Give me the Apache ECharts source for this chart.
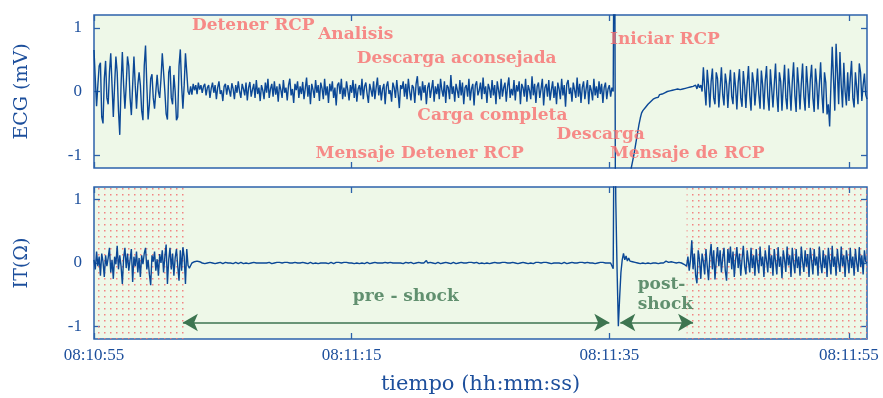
<!DOCTYPE html>
<html><head><meta charset="utf-8">
<script src="https://cdn.jsdelivr.net/npm/echarts@6/dist/echarts.min.js"></script>
<style>html,body{margin:0;padding:0;background:#fff}#c{width:883px;height:398px}</style>
</head><body><div id="c"></div>
<script>
// ---- DATA (sampled every 0.1 s from 08:10:55) ----
const sampleStep = 0.1;
const ecg = [
 0.65,0.2,-0.23,0.1,0.4,0.45,-0.4,-0.5,0.2,0.48,
 -0.1,-0.2,0.3,0.6,0.1,-0.4,0.1,0.55,0.3,-0.3,
 -0.68,0.1,0.62,0.1,-0.27,0.1,0.55,0.4,-0.1,-0.37,
 0.1,0.55,0.1,-0.27,0.1,0.3,0.1,-0.3,-0.45,0.4,
 0.72,0.1,-0.44,-0.2,0.2,0.27,-0.1,-0.27,0.0,0.26,
 0.0,-0.1,0.2,0.6,0.6,0.0,-0.35,-0.44,0.3,0.4,
 -0.1,-0.2,0.26,0.0,-0.45,-0.4,0.4,0.66,0.1,-0.27,
 0.1,0.6,0.3,0.0,-0.05,
 0.08,-0.05,0.12,0.02,0.1,
 -0.04,0.14,0.03,0.1,-0.02,0.08,0.12,-0.06,0.06,0.1,
 -0.1,0.05,0.14,-0.02,0.1,-0.12,0.06,0.16,-0.04,0.02,
 -0.15,0.08,0.12,-0.05,0.1,0.02,-0.08,0.13,0.04,-0.12,
 0.1,-0.02,0.16,0.0,-0.1,0.12,0.04,-0.06,0.14,-0.14,
 0.06,0.15,-0.08,0.03,0.12,-0.1,0.18,-0.04,0.06,-0.15,
 0.1,0.02,-0.12,0.14,-0.02,0.2,-0.1,0.04,0.12,-0.08,
 0.16,-0.05,0.08,-0.16,0.12,0.03,-0.1,0.18,-0.02,0.06,
 -0.14,0.1,0.2,-0.06,0.04,-0.18,0.12,0.02,0.16,-0.1,
 0.08,-0.04,0.15,-0.12,0.05,0.22,-0.08,0.1,-0.2,0.12,
 0.03,-0.1,0.18,-0.02,0.1,-0.15,0.14,0.05,-0.12,0.2,
 -0.06,0.08,-0.18,0.12,0.0,0.16,-0.1,0.06,-0.22,0.1,
 0.14,-0.04,0.2,-0.12,0.06,-0.08,0.16,0.02,-0.14,0.1,
 -0.02,0.18,-0.1,0.12,-0.16,0.04,0.1,-0.06,0.2,-0.12,
 0.08,0.14,-0.04,-0.18,0.12,0.02,-0.08,0.16,-0.12,0.06,
 0.22,-0.06,0.1,-0.14,0.04,0.12,-0.2,0.08,0.16,-0.04,
 0.02,-0.16,0.14,0.06,-0.1,0.18,-0.02,-0.26,0.1,0.04,
 0.16,-0.08,0.12,-0.12,0.2,0.0,-0.14,0.1,0.06,-0.18,
 0.12,0.24,-0.06,0.08,-0.14,0.16,-0.02,0.1,-0.2,0.06,
 0.14,-0.1,0.04,0.18,-0.16,0.08,-0.04,0.12,-0.12,0.2,
 0.02,-0.08,0.16,-0.18,0.1,0.06,-0.12,0.26,-0.04,0.08,
 -0.16,0.12,0.02,-0.1,0.18,-0.06,0.14,-0.2,0.06,0.1,
 -0.08,0.2,-0.14,0.04,0.12,-0.22,0.1,0.16,-0.06,0.02,
 0.14,-0.12,0.22,-0.04,0.08,-0.18,0.12,0.04,-0.1,0.18,
 -0.06,0.1,-0.2,0.16,0.02,-0.12,0.2,-0.08,0.06,0.14,
 -0.16,0.08,0.22,-0.1,0.04,-0.06,0.18,-0.14,0.1,0.0,
 0.16,-0.2,0.12,0.06,-0.08,0.2,-0.16,0.1,0.02,-0.12,
 0.24,-0.06,0.12,-0.18,0.08,0.14,-0.1,0.04,0.2,-0.22,
 0.06,0.12,-0.08,0.18,-0.14,0.02,0.16,-0.1,0.08,-0.2,
 0.14,0.04,-0.12,0.2,-0.06,0.1,-0.24,0.12,0.18,-0.04,
 0.06,-0.16,0.14,0.02,-0.1,0.22,-0.08,0.12,-0.18,0.06,
 0.16,-0.12,0.04,0.18,-0.2,0.1,0.02,-0.14,0.2,-0.06,
 0.08,-0.1,0.16,-0.04,0.12,-0.18,0.06,0.14,-0.12,0.04,
 0.1,-0.08,0.06,0.0,
 4.0,-4.0,
 -3.6,-3.3,-3.0,-2.7,-2.4,-2.15,-1.95,-1.75,-1.6,-1.45,-1.32,-1.2,
 -1.1,-1.0,-0.88,-0.76,-0.64,-0.52,-0.42,-0.34,-0.3,-0.27,
 -0.25,-0.22,-0.2,-0.19,-0.16,-0.15,-0.12,-0.13,-0.1,-0.08,
 -0.09,-0.05,-0.07,-0.04,-0.05,-0.02,-0.04,0.0,-0.02,0.01,
 -0.01,0.02,0.0,0.03,0.01,0.04,0.02,0.03,0.01,0.04,
 0.02,0.05,0.02,0.06,0.03,0.07,0.04,0.08,0.05,0.1,
 0.04,0.12,0.06,0.1,
 0.0,0.38,0.05,-0.22,0.34,0.1,-0.25,0.15,0.36,-0.1,
 -0.2,0.3,0.2,-0.25,0.05,0.38,-0.05,-0.22,0.28,0.12,
 -0.26,0.1,0.34,-0.08,-0.2,0.3,0.06,-0.28,0.14,0.35,
 -0.1,-0.24,0.32,0.08,-0.26,0.12,0.4,-0.06,-0.3,0.3,
 0.14,-0.22,0.05,0.36,-0.04,-0.27,0.33,0.1,-0.28,0.16,
 0.4,-0.08,-0.3,0.35,0.05,-0.25,0.1,0.44,-0.05,-0.32,
 0.3,0.16,-0.3,0.08,0.42,-0.1,-0.28,0.36,0.06,-0.3,
 0.15,0.46,-0.06,-0.32,0.38,0.1,-0.28,0.12,0.44,-0.08,
 -0.3,0.4,0.08,-0.26,0.18,0.42,-0.1,-0.32,0.36,0.12,
 -0.28,0.1,0.46,-0.04,-0.34,0.3,0.14,-0.36,-0.2,-0.55,
 0.1,0.7,0.2,-0.3,0.75,0.3,-0.2,0.62,0.1,-0.25,
 0.45,0.0,-0.22,0.3,-0.15,0.2,0.48,-0.1,-0.25,0.3,
 0.06,-0.2,0.44,0.3,-0.15,0.1,0.28,-0.05,-0.12
];
const it = [
 0.05,-0.1,0.18,-0.05,0.1,-0.2,0.15,0.02,-0.22,0.12,
 -0.05,0.08,0.24,-0.15,0.05,-0.25,0.1,-0.02,0.27,-0.1,
 0.12,-0.05,-0.33,0.08,0.24,-0.08,0.15,-0.12,0.05,0.22,
 -0.3,0.1,-0.05,0.18,-0.15,0.08,-0.22,0.12,-0.02,0.15,
 0.24,-0.1,0.05,-0.18,-0.35,0.12,0.02,0.18,-0.12,0.06,
 -0.2,0.14,0.0,0.2,-0.15,0.1,0.29,-0.33,0.05,0.24,
 -0.1,0.15,-0.2,0.08,0.22,-0.05,-0.28,0.2,-0.12,0.25,
 0.1,-0.33,
 0.22,-0.04,-0.08,-0.05,0.0,0.03,0.02,0.01,
 0.03,0.01,0.02,-0.01,0.0,0.02,-0.01,0.01,0.0,-0.02,
 0.01,-0.01,0.0,0.02,-0.01,0.01,0.0,-0.01,0.01,0.0,
 -0.01,0.0,0.01,-0.01,0.0,0.01,0.0,0.01,-0.01,0.0,
 0.01,0.0,-0.01,0.0,0.01,0.0,-0.01,0.01,0.0,0.0,
 -0.01,0.01,0.0,0.0,0.01,-0.01,0.0,0.01,0.0,-0.01,
 0.0,0.01,0.0,-0.01,0.0,0.0,0.01,0.0,-0.01,0.01,
 0.0,0.0,0.01,-0.01,0.01,0.0,0.0,-0.01,0.01,0.0,
 0.01,-0.01,0.0,0.01,0.0,-0.01,0.01,0.0,0.0,0.01,
 0.0,-0.01,0.01,0.0,0.0,0.01,-0.01,0.0,0.01,0.0,
 -0.01,0.01,0.0,0.0,-0.01,0.01,0.0,0.01,0.0,-0.01,
 0.0,0.01,-0.01,0.0,0.01,0.0,-0.01,0.0,0.01,0.0,
 0.01,0.0,0.0,-0.01,0.01,0.0,0.01,-0.01,0.0,0.0,
 0.0,0.01,-0.01,0.01,0.0,0.0,-0.01,0.01,0.0,0.01,
 -0.01,0.0,0.01,0.0,-0.01,0.01,0.0,0.0,0.01,-0.01,
 0.0,0.01,0.0,-0.01,0.0,0.01,0.01,-0.01,0.0,0.0,
 0.01,-0.01,0.0,0.01,0.0,-0.01,0.0,0.01,0.0,0.01,
 -0.01,0.0,0.01,0.0,0.0,-0.01,0.01,0.0,-0.01,0.01,
 0.0,0.0,0.01,-0.01,0.0,0.01,0.0,0.0,0.04,0.0,
 -0.01,0.01,0.0,0.0,0.01,-0.01,0.0,0.01,0.0,-0.01,
 0.01,0.0,-0.01,0.01,0.0,0.0,0.01,-0.01,0.0,0.01,
 0.0,-0.01,0.01,0.0,0.0,0.01,-0.01,0.0,0.01,0.0,
 -0.01,0.01,0.0,0.01,-0.01,0.0,0.0,0.01,0.0,-0.01,
 0.01,0.0,0.0,-0.01,0.01,0.0,0.01,-0.01,0.0,0.0,
 0.0,0.01,-0.01,0.0,0.01,0.0,-0.01,0.01,0.0,0.01,
 -0.01,0.0,0.01,0.0,-0.01,0.01,0.0,0.0,0.01,-0.01,
 0.01,0.0,-0.01,0.01,0.0,0.0,0.01,-0.01,0.01,0.0,
 0.0,-0.01,0.0,0.01,0.0,0.01,-0.01,0.0,0.0,0.01,
 -0.01,0.01,0.0,0.0,0.01,-0.01,0.01,0.0,-0.01,0.0,
 0.01,0.0,0.01,-0.01,0.0,0.01,0.0,-0.01,0.01,0.0,
 0.0,0.01,-0.01,0.0,0.01,0.0,0.0,0.01,-0.01,0.01,
 -0.01,0.0,0.01,0.01,-0.01,0.0,0.01,0.0,0.0,-0.01,
 0.01,0.0,-0.01,0.01,0.0,0.01,-0.01,0.0,0.01,0.0,
 0.01,0.0,-0.02,-0.09,
 3.5,1.0,-0.1,-1.0,-0.55,-0.15,0.05,0.15,0.05,0.11,
 0.03,0.08,0.03,0.06,0.02,0.04,0.01,0.03,0.0,0.02,
 -0.01,0.02,0.0,0.01,-0.01,0.02,0.0,0.01,-0.01,0.01,
 0.0,0.02,0.0,0.01,-0.01,0.01,0.0,0.02,0.0,0.01,
 0.03,0.0,0.01,-0.01,0.02,0.0,0.01,0.02,0.0,0.03,
 0.01,0.02,0.0,0.01,-0.02,0.0,
 -0.05,0.1,-0.12,0.05,0.36,-0.1,0.15,-0.2,-0.32,0.2,
 0.05,-0.25,0.15,0.02,-0.18,0.22,-0.05,-0.27,0.1,0.3,
 -0.1,0.2,-0.26,0.05,0.25,-0.05,0.2,-0.15,0.08,0.24,
 -0.12,-0.28,0.22,0.0,0.26,-0.1,0.18,-0.22,0.05,0.25,
 -0.08,0.15,-0.2,0.06,0.27,-0.05,-0.18,0.2,0.02,-0.15,
 0.24,-0.08,0.12,-0.2,0.22,0.0,-0.16,0.26,-0.05,0.1,
 -0.22,0.2,0.04,-0.15,0.28,-0.08,0.12,-0.2,0.22,0.02,
 -0.18,0.25,-0.06,0.1,-0.24,0.2,0.05,-0.14,0.26,-0.04,
 0.12,-0.22,0.24,0.0,-0.16,0.22,-0.08,0.1,-0.2,0.26,
 0.02,-0.14,0.2,-0.06,0.14,-0.22,0.24,0.04,-0.18,0.22,
 -0.04,0.1,-0.2,0.26,0.0,-0.16,0.2,-0.08,0.12,-0.22,
 0.24,0.02,-0.18,0.27,-0.06,0.1,-0.2,0.22,0.0,-0.14,
 0.26,-0.05,0.12,-0.22,0.2,0.04,-0.16,0.24,-0.08,0.1,
 -0.2,0.22,0.0,-0.14,0.25,-0.06,0.12,-0.18,0.2,0.02,
 0.0
];
const tickTimes = [0, 20, 40, 58.6];
const tickLabels = ['08:10:55', '08:11:15', '08:11:35', '08:11:55'];
const yTicks = [-1, 0, 1];
const eventNames = ['Detener RCP','Analisis','Descarga aconsejada','Iniciar RCP','Carga completa','Descarga','Mensaje Detener RCP','Mensaje de RCP'];
const eventTimes = [7.6, 17.4, 20.4, 40.05, 25.1, 35.9, 17.2, 40.05];
const eventLevels = [1.03, 0.9, 0.51, 0.81, -0.38, -0.67, -0.97, -0.97];
const phaseNames = ['pre - shock', 'post-\nshock'];
const phaseTimes = [24.2, 42.2];
const phaseLevels = [-0.53, -0.5];
const arrowSpans = [[6.9, 40.0], [40.85, 46.5]];
const arrowLevel = -0.94;
const dottedSpans = [[0, 7.0], [46.0, 60]];

// ---- CHART ----
const blue = '#1d4f9c', axisBlue = '#2c62aa', lineBlue = '#0b4896';
const pink = '#f76e6e', green = '#3d7550', bg = '#eef8e8';
const serif = '"Liberation Serif", serif';
const wide = '"DejaVu Serif", serif';
const times = ecg.map((_, i) => Math.round(i * sampleStep * 10) / 10);

const dot = document.createElement('canvas');
dot.width = 6; dot.height = 6;
const dctx = dot.getContext('2d');
dctx.fillStyle = 'rgba(242,120,120,0.9)';
dctx.fillRect(2, 2, 1.5, 1.5);

const chart = echarts.init(document.getElementById('c'), null, {renderer: 'canvas'});
function xAx(grid, pos, labels) {
  return {
    type: 'value', gridIndex: grid, min: 0, max: 60, position: pos,
    axisLine: {show: false, onZero: false}, splitLine: {show: false},
    axisTick: {show: true, inside: true, length: 6, customValues: tickTimes, lineStyle: {color: axisBlue, width: 1.3}},
    axisLabel: labels ? {show: true, customValues: tickTimes, color: blue, fontFamily: serif, fontSize: 17, margin: 8,
      formatter: v => tickLabels[tickTimes.indexOf(v)] || ''} : {show: false},
    name: labels ? 'tiempo (hh:mm:ss)' : '', nameLocation: 'middle', nameGap: 35,
    nameTextStyle: {color: blue, fontFamily: wide, fontSize: 21}
  };
}
function yAx(grid, pos, name) {
  return {
    type: 'value', gridIndex: grid, min: -1.2, max: 1.2, position: pos,
    axisLine: {show: false, onZero: false}, splitLine: {show: false},
    axisTick: {show: true, inside: true, length: 6, customValues: yTicks, lineStyle: {color: axisBlue, width: 1.3}},
    axisLabel: name ? {show: true, customValues: yTicks, color: blue, fontFamily: serif, fontSize: 17, margin: 12} : {show: false},
    name: name || '', nameLocation: 'middle', nameGap: 62, nameRotate: 90,
    nameTextStyle: {color: blue, fontFamily: wide, fontSize: 19}
  };
}
const option = {
  animation: false,
  backgroundColor: '#ffffff',
  grid: [
    {left: 94, right: 16, top: 15, height: 153, show: true, backgroundColor: bg, borderColor: axisBlue, borderWidth: 1.5},
    {left: 94, right: 16, top: 187, height: 152, show: true, backgroundColor: bg, borderColor: axisBlue, borderWidth: 1.5}
  ],
  xAxis: [xAx(0, 'bottom', false), xAx(0, 'top', false), xAx(1, 'bottom', true), xAx(1, 'top', false)],
  yAxis: [yAx(0, 'left', 'ECG (mV)'), yAx(0, 'right', null), yAx(1, 'left', 'IT(Ω)'), yAx(1, 'right', null)],
  series: [
    {
      type: 'line', xAxisIndex: 0, yAxisIndex: 0, showSymbol: false, symbol: 'none', clip: true,
      data: ecg.map((v, i) => [times[i], v]),
      lineStyle: {color: lineBlue, width: 1.4}, z: 3
    },
    {
      type: 'line', xAxisIndex: 2, yAxisIndex: 2, showSymbol: false, symbol: 'none', clip: true,
      data: it.map((v, i) => [times[i], v]),
      lineStyle: {color: lineBlue, width: 1.4}, z: 3,
      markArea: {silent: true, itemStyle: {color: {image: dot, repeat: 'repeat'}},
        data: dottedSpans.map(s => [{xAxis: s[0]}, {xAxis: s[1]}])},
      markLine: {silent: true, symbol: ['arrow', 'arrow'], symbolSize: [13, 15],
        lineStyle: {color: green, width: 1.6, type: 'solid'}, label: {show: false},
        data: arrowSpans.map(s => [{coord: [s[0], arrowLevel]}, {coord: [s[1], arrowLevel]}])}
    },
    {
      type: 'scatter', xAxisIndex: 0, yAxisIndex: 0, symbolSize: 0, silent: true, z: 5,
      data: eventNames.map((n, i) => ({name: n, value: [eventTimes[i], eventLevels[i]]})),
      label: {show: true, position: 'right', distance: 0, formatter: '{b}', color: pink,
        fontFamily: wide, fontSize: 17, fontWeight: 'bold'}
    },
    {
      type: 'scatter', xAxisIndex: 2, yAxisIndex: 2, symbolSize: 0, silent: true, z: 5,
      data: phaseNames.map((n, i) => ({name: n, value: [phaseTimes[i], phaseLevels[i]],
        label: i === 0 ? {position: 'inside', align: 'center'} : {position: 'right', distance: 0}})),
      label: {show: true, formatter: '{b}', color: green, fontFamily: wide, fontSize: 17, fontWeight: 'bold', lineHeight: 20}
    }
  ]
};
chart.setOption(option);
</script></body></html>
